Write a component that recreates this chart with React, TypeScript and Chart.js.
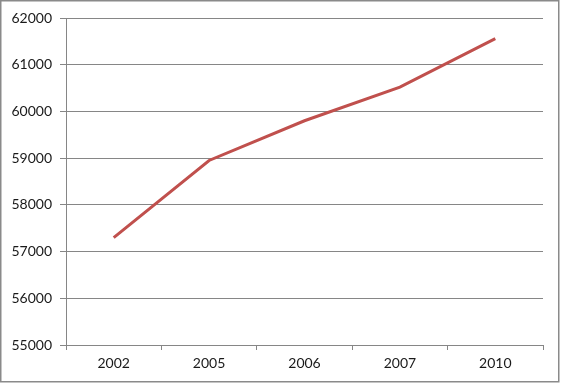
import React, { useEffect, useRef } from "react";
import { Chart, registerables } from "chart.js";

Chart.register(...registerables);

const categories = ["2002", "2005", "2006", "2007", "2010"];
const values = [57300, 58950, 59800, 60520, 61560];
const yMin = 55000;
const yMax = 62000;
const yStep = 1000;

const borderPlugin = {
  id: "outerBorder",
  beforeDraw(chart: any) {
    const ctx = chart.ctx;
    ctx.save();
    ctx.fillStyle = "#ffffff";
    ctx.fillRect(0, 0, chart.width, chart.height);
    ctx.strokeStyle = "#8a8a8a";
    ctx.lineWidth = 1.5;
    ctx.strokeRect(0.75, 0.75, chart.width - 3, chart.height - 3);
    ctx.restore();
  },
};

export default function App() {
  const ref = useRef<HTMLCanvasElement | null>(null);
  useEffect(() => {
    document.body.style.margin = "0";
    const chart = new Chart(ref.current!, {
      type: "line",
      data: {
        labels: categories,
        datasets: [
          {
            data: values,
            borderColor: "#C0504D",
            borderWidth: 3,
            pointRadius: 0,
            tension: 0,
            fill: false,
          },
        ],
      },
      options: {
        animation: false,
        responsive: false,
        maintainAspectRatio: false,
        layout: { padding: { left: 0, right: 18, top: 18, bottom: 0 } },
        plugins: { legend: { display: false }, tooltip: { enabled: false } },
        scales: {
          x: {
            offset: true,
            grid: {
              offset: true,
              drawOnChartArea: false,
              drawTicks: true,
              tickLength: 5,
              color: "#868686",
            },
            border: { color: "#868686", width: 1 },
            ticks: {
              color: "#1a1a1a",
              font: { family: "Lato", size: 14 },
              padding: 5,
              maxRotation: 0,
            },
            afterFit: (s: any) => {
              s.height = 39;
            },
          },
          y: {
            min: yMin,
            max: yMax,
            grid: { color: "#868686", tickLength: 6, lineWidth: 1 },
            border: { color: "#868686", width: 1 },
            ticks: {
              stepSize: yStep,
              color: "#1a1a1a",
              font: { family: "Lato", size: 14 },
              padding: 8,
              callback: (v: any) => String(v),
            },
            afterFit: (s: any) => {
              s.width = 66;
            },
          },
        },
      },
      plugins: [borderPlugin],
    });
    return () => chart.destroy();
  }, []);
  return (
    <div style={{ width: 561, height: 384 }}>
      <canvas ref={ref} width={561} height={384} />
    </div>
  );
}
